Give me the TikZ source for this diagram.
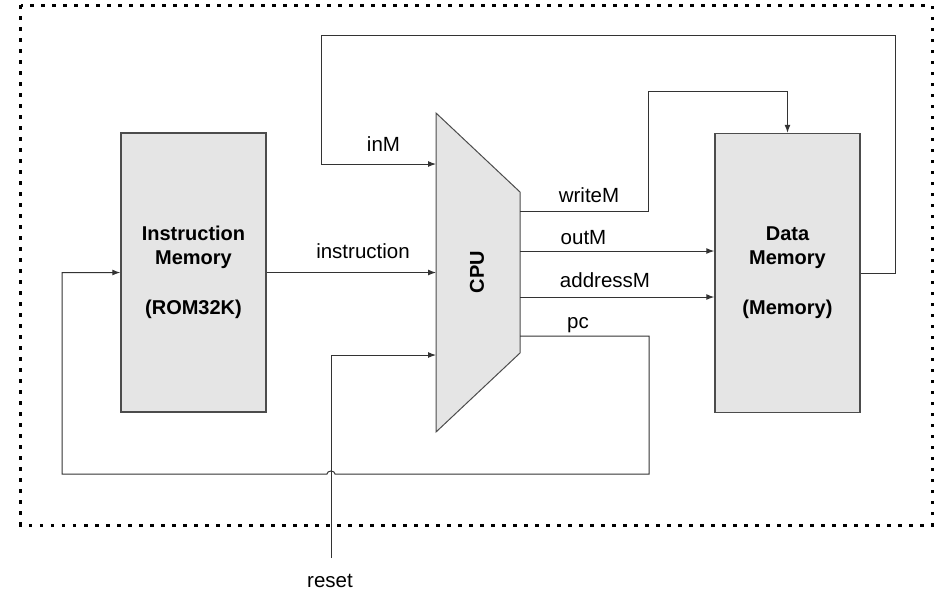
\documentclass[tikz,border=0pt]{standalone}
\usepackage{fontspec}
\setmainfont{Liberation Sans}
\usetikzlibrary{arrows.meta, positioning}
\tikzset{
    x=0.5pt, y=-0.5pt, % one unit is one pixel of the reference
    >={Latex[length=4pt,width=3pt]}, % small filled arrow heads
    block/.style={draw=black!70, line width=0.75pt, fill=black!10, minimum width=72.5pt, minimum height=139.5pt, inner sep=0pt, font=\bfseries, align=center}, % memory boxes
    wire/.style={draw=black!80, line width=0.5pt}, % connectors
    lbl/.style={anchor=base}, % wire labels sit on their baseline
    }
\begin{document}
\begin{tikzpicture}[font=\fontsize{10.25}{12.5}\selectfont]
\useasboundingbox (0,0) rectangle (939,596);
\draw[line width=1.5pt, dash pattern=on 1.75pt off 3.75pt] (20.7,5.3) rectangle (932,525);

\node[block] (im) at (193.5,272.5) {Instruction\\Memory\\[13pt](ROM32K)};
\node[block] (dm) at (787.5,273) {Data\\Memory\\[13pt](Memory)};

% cpu corners and pins
\coordinate (cpuTL) at (436,113);
\coordinate (cpuTR) at (520,192);
\coordinate (cpuBR) at (520,353);
\coordinate (cpuBL) at (436,432);
\coordinate (pinM) at (436,164);
\coordinate (pinRst) at (436,355);
\coordinate (outW) at (520,211);
\coordinate (outO) at (520,251);
\coordinate (outA) at (520,297);
\coordinate (outPC) at (520,336);
\coordinate (rst) at (331,558);

\draw[draw=black!70, line width=0.5pt, fill=black!10] (cpuTL) -- (cpuTR) -- (cpuBR) -- (cpuBL) -- cycle;
\node[rotate=90, font=\bfseries] (cpu) at (477,272) {CPU};

\draw[wire,->] (im.east) -- (im.east -| cpuTL);
\draw[wire,->] (dm.east) -| (895,35) -| (321,164) -- (pinM);
\draw[wire,->] (outW) -| (648,91) -| (dm.north);
\draw[wire,->] (outO) -- (outO -| dm.west);
\draw[wire,->] (outA) -- (outA -| dm.west);
\draw[wire,->] (outPC) -| (649,474) -- (335,474) arc[start angle=0, end angle=180, x radius=2pt, y radius=1.5pt] -- (62,474) |- (im.west);
\draw[wire,->] (rst) |- (pinRst);

\node[lbl] (lblinstr) at (363,258) {instruction};
\node[lbl] (lblinm) at (383.5,151) {inM};
\node[lbl] (lblwrite) at (589,202) {writeM};
\node[lbl] (lblout) at (583.5,244) {outM};
\node[lbl] (lbladdr) at (605,287) {addressM};
\node[lbl] (lblpc) at (578,328) {pc};
\node[lbl] (lblreset) at (330,587) {reset};

\end{tikzpicture}
\end{document}
